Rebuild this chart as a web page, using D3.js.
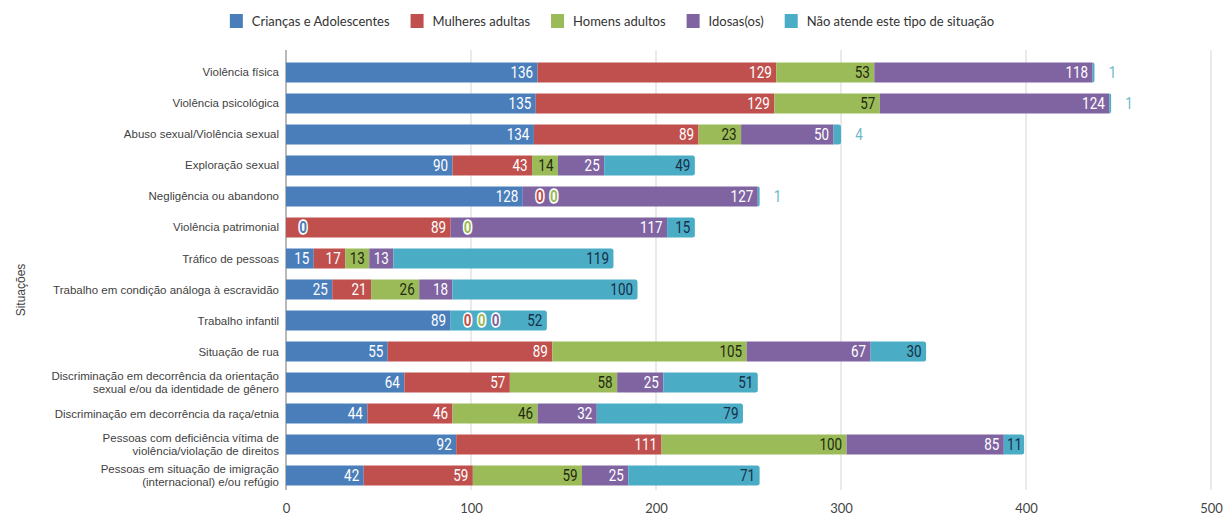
<!DOCTYPE html>
<html><head><meta charset="utf-8">
<script src="https://cdn.jsdelivr.net/npm/d3@7"></script>
<style>
body{margin:0;background:#fff;}
svg{display:block;}
</style></head>
<body>
<svg id="chart" width="1226" height="517"></svg>
<script>
const categories = [
  ["Violência física"],
  ["Violência psicológica"],
  ["Abuso sexual/Violência sexual"],
  ["Exploração sexual"],
  ["Negligência ou abandono"],
  ["Violência patrimonial"],
  ["Tráfico de pessoas"],
  ["Trabalho em condição análoga à escravidão"],
  ["Trabalho infantil"],
  ["Situação de rua"],
  ["Discriminação em decorrência da orientação", "sexual e/ou da identidade de gênero"],
  ["Discriminação em decorrência da raça/etnia"],
  ["Pessoas com deficiência vítima de", "violência/violação de direitos"],
  ["Pessoas em situação de imigração", "(internacional) e/ou refúgio"]
];
const seriesNames = ["Crianças e Adolescentes","Mulheres adultas","Homens adultos","Idosas(os)","Não atende este tipo de situação"];
const criancas   = [136,135,134,90,128,0,15,25,89,55,64,44,92,42];
const mulheres   = [129,129,89,43,0,89,17,21,0,89,57,46,111,59];
const homens     = [53,57,23,14,0,0,13,26,0,105,58,46,100,59];
const idosos     = [118,124,50,25,127,117,13,18,0,67,25,32,85,25];
const naoAtende  = [1,1,4,49,1,15,119,100,52,30,51,79,11,71];
const xTicks = [0,100,200,300,400,500];

const colors = ["#4a7ebb","#c0504d","#9bbb59","#8064a2","#4bacc6"];
const textColors = ["#ffffff","#ffffff","#1f2a10","#ffffff","#163049"];

const seriesValues = [criancas, mulheres, homens, idosos, naoAtende];
const rows = categories.map((c,i)=>{
  const o = {key:i, label:c};
  seriesNames.forEach((s,j)=>o[s]=seriesValues[j][i]);
  return o;
});

const svg = d3.select("#chart");
const x = d3.scaleLinear().domain([0,500]).range([286,1211]);
const y = d3.scaleBand().domain(d3.range(categories.length)).range([56.8,491.2]).paddingInner(0.355).paddingOuter(0.18);

// gridlines
svg.append("g").selectAll("line").data(xTicks.filter(t=>t>0)).join("line")
  .attr("x1",d=>x(d)).attr("x2",d=>x(d)).attr("y1",50).attr("y2",490)
  .attr("stroke","#dcdcdc").attr("stroke-width",1.2);

// y axis line
svg.append("line").attr("x1",x(0)).attr("x2",x(0)).attr("y1",50).attr("y2",490)
  .attr("stroke","#8a8a8a").attr("stroke-width",1.2);

const stack = d3.stack().keys(seriesNames)(rows);

const gBars = svg.append("g");
stack.forEach((layer,j)=>{
  gBars.selectAll(null).data(layer).join("path")
    .attr("fill",colors[j])
    .attr("d",(d,i)=>{
      const x0=x(d[0]), x1=x(d[1]), y0=y(i), h=y.bandwidth();
      if(x1-x0<=0) return "";
      let last = true;
      for(let k=j+1;k<seriesNames.length;k++) if(seriesValues[k][i]>0) last=false;
      const r = last ? Math.min(2.5,(x1-x0)) : 0;
      return `M${x0},${y0}H${x1-r}Q${x1},${y0} ${x1},${y0+r}V${y0+h-r}Q${x1},${y0+h} ${x1-r},${y0+h}H${x0}Z`;
    });
});

// value labels
const sx = 0.84;
const gLab = svg.append("g").style("font-family","Roboto, sans-serif").style("font-size","16px");
categories.forEach((c,i)=>{
  const cy = y(i)+y.bandwidth()/2;
  let zeroCount = 0, lastPos = null;
  stack.forEach((layer,j)=>{
    const d = layer[i];
    const v = seriesValues[j][i];
    const x0=x(d[0]), x1=x(d[1]);
    if(v===0){
      if(lastPos!==x1){ zeroCount=0; lastPos=x1; }
      const cx = x1 + 17 + 14*zeroCount;
      zeroCount++;
      gLab.append("text").attr("transform",`translate(${cx},${cy}) scale(${sx},1)`)
        .attr("text-anchor","middle").attr("dy","0.36em")
        .attr("fill",colors[j]).attr("stroke","#ffffff").attr("stroke-width",3.5)
        .attr("paint-order","stroke").attr("stroke-linejoin","round")
        .style("font-weight","bold").text("0");
      return;
    }
    const t = gLab.append("text").attr("dy","0.36em").text(v);
    const tw = t.node().getComputedTextLength()*sx;
    if(tw+3 <= x1-x0){
      t.attr("transform",`translate(${x1-(x1-x0 < tw+8 ? 2 : 4.5)},${cy}) scale(${sx},1)`)
       .attr("text-anchor","end").attr("fill",textColors[j]);
    } else {
      t.attr("transform",`translate(${x1+18},${cy}) scale(${sx},1)`)
       .attr("text-anchor","middle").attr("fill","#6db7cc");
    }
  });
});

// y labels
const gY = svg.append("g").style("font-family","'Liberation Sans', Arial, sans-serif").style("font-size","11.5px").attr("fill","#3f3f3f");
categories.forEach((lines,i)=>{
  const cy = y(i)+y.bandwidth()/2;
  const t = gY.append("text").attr("text-anchor","end");
  const n = lines.length;
  lines.forEach((ln,k)=>{
    t.append("tspan").attr("x",279).attr("y",cy + (k-(n-1)/2)*13.5).attr("dy","0.35em").text(ln);
  });
});

// y axis title
svg.append("text").attr("transform","translate(21,290) rotate(-90)")
  .attr("text-anchor","middle").attr("dy","0.35em")
  .style("font-family","'Liberation Sans', Arial, sans-serif").style("font-size","12px")
  .attr("fill","#3f3f3f").text("Situações");

// x axis
const xAxis = d3.axisBottom(x).tickValues(xTicks).tickSize(0).tickPadding(0).tickFormat(d3.format("d"));
const gx = svg.append("g").attr("transform","translate(0,504)").call(xAxis);
gx.select(".domain").remove();
gx.selectAll("text").style("font-family","Lato, sans-serif").style("font-size","13px").attr("fill","#444").attr("dy","0.7em");

// legend
const gL = svg.append("g").style("font-family","Lato, sans-serif").style("font-size","13px");
const items = [];
seriesNames.forEach((s,j)=>{
  const g = gL.append("g");
  g.append("rect").attr("x",0).attr("y",-7).attr("width",13).attr("height",14).attr("fill",colors[j]);
  const t = g.append("text").attr("x",22).attr("dy","0.35em").attr("fill","#333").text(s);
  const w = 22 + t.node().getComputedTextLength();
  items.push({g,w});
});
const gap = 21;
const total = d3.sum(items,d=>d.w) + gap*(items.length-1);
let px = 612 - total/2;
items.forEach(it=>{ it.g.attr("transform",`translate(${px},21)`); px += it.w + gap; });
</script>
</body></html>
